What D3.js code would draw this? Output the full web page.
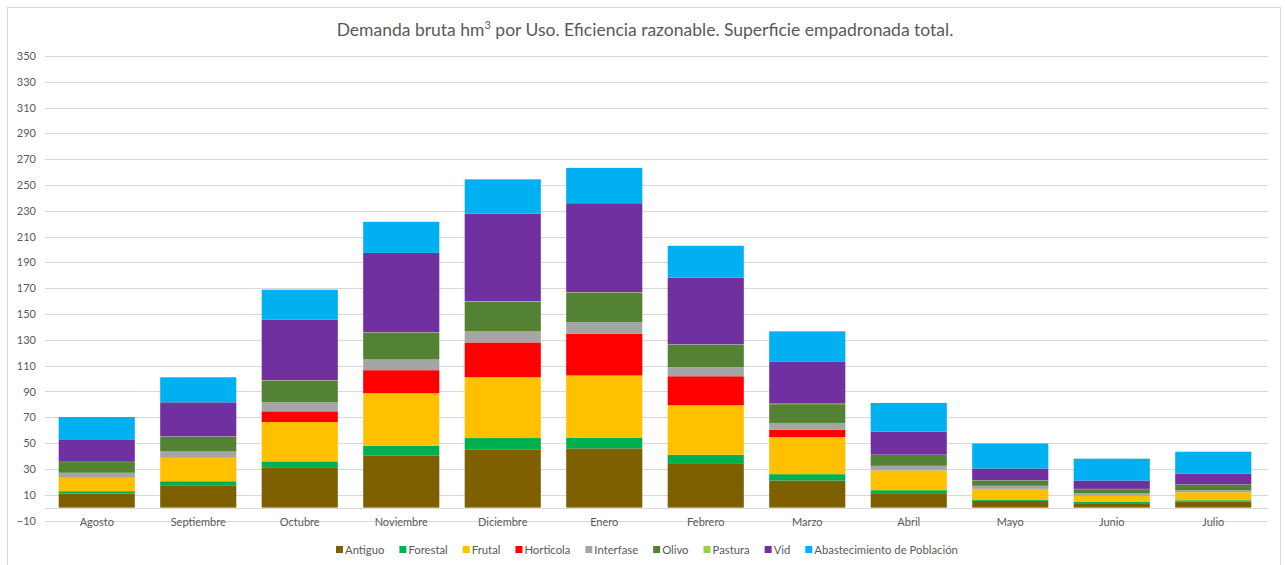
<!DOCTYPE html>
<html><head><meta charset="utf-8">
<script src="https://cdn.jsdelivr.net/npm/d3@7"></script>
<style>body{margin:0;background:#fff;} text{font-family:Lato,"Open Sans",sans-serif;}</style>
</head><body><svg id="c" width="1285" height="565"></svg>
<script>
const months = ["Agosto","Septiembre","Octubre","Noviembre","Diciembre","Enero","Febrero","Marzo","Abril","Mayo","Junio","Julio"];
const seriesNames = ["Antiguo","Forestal","Frutal","Horticola","Interfase","Olivo","Pastura","Vid","Abastecimiento de Población"];
const colors = ["#7F6000","#00B050","#FFC000","#FF0000","#A5A5A5","#548235","#92D050","#7030A0","#00B0F0"];
const antiguo   = [10.9,17.3,30.8,40.2,44.8,45.9,34.4,21.0,10.6,5.2,3.4,4.7];
const forestal  = [1.8,3.1,5.0,7.8,9.1,8.3,6.6,4.9,2.9,1.0,1.0,1.0];
const frutal    = [10.4,18.2,30.5,40.6,47.1,48.2,38.3,28.7,15.3,8.3,4.7,6.2];
const horticola = [0,0,8.3,17.9,27.0,32.4,22.5,5.8,0,0,0,0];
const interfase = [3.9,4.9,7.0,8.3,8.8,8.8,7.0,5.2,3.6,2.4,2.0,1.6];
const olivo     = [8.3,11.5,16.7,20.6,22.7,22.9,17.3,14.6,8.4,4.1,3.2,4.2];
const pastura   = [0.2,0.2,0.4,0.4,0.4,0.4,0.4,0.4,0.2,0.2,0.2,0.2];
const vid       = [17.4,26.4,46.9,61.6,67.9,69.0,51.7,32.7,17.8,9.1,6.5,8.3];
const abast     = [17.3,19.4,23.3,24.1,26.6,27.4,24.7,23.3,22.3,19.4,16.9,17.1];
const yTicks = [-10,10,30,50,70,90,110,130,150,170,190,210,230,250,270,290,310,330,350];

const allSeries = [antiguo,forestal,frutal,horticola,interfase,olivo,pastura,vid,abast];
const rows = months.map((m,i)=>{const r={month:m}; seriesNames.forEach((s,j)=>r[s]=allSeries[j][i]); return r;});
const stacked = d3.stack().keys(seriesNames)(rows);

const svg = d3.select("#c");
svg.append("rect").attr("x",7.5).attr("y",7.5).attr("width",1273).attr("height",570).attr("fill","#fff").attr("stroke","#d9d9d9");

const x = d3.scaleBand().domain(months).range([46,1264]).paddingInner(0.25).paddingOuter(0.125);
const y = d3.scaleLinear().domain([-10,350]).range([520.5,56]);

// gridlines
svg.append("g").selectAll("line").data(yTicks).join("line")
  .attr("x1",45).attr("x2",1268).attr("y1",d=>Math.round(y(d))+0.5).attr("y2",d=>Math.round(y(d))+0.5)
  .attr("stroke","#d9d9d9").attr("stroke-width",1);

// y axis labels
const yAxis = svg.append("g").attr("transform","translate(36,0)")
  .call(d3.axisLeft(y).tickValues(yTicks).tickSize(0).tickPadding(0));
yAxis.select(".domain").remove();
yAxis.selectAll("text").attr("fill","#595959").style("font-size","11px");

// bars
svg.append("g").selectAll("g").data(stacked).join("g")
  .attr("fill",(d,i)=>colors[i])
  .selectAll("rect").data(d=>d).join("rect")
  .attr("x",d=>x(d.data.month)).attr("width",x.bandwidth())
  .attr("y",d=>y(d[1])).attr("height",d=>Math.max(0,y(d[0])-y(d[1])));

// zero line
svg.append("line").attr("x1",45).attr("x2",1268).attr("y1",Math.round(y(0))+0.5).attr("y2",Math.round(y(0))+0.5)
  .attr("stroke","#d9d9d9").attr("stroke-width",1);

// x axis labels
const xAxis = svg.append("g").attr("transform",`translate(0,${y(0)})`)
  .call(d3.axisBottom(x).tickSize(0).tickPadding(11));
xAxis.select(".domain").remove();
xAxis.selectAll("text").attr("fill","#595959").style("font-size","11px");

// title
const t = svg.append("text").attr("x",645).attr("y",36).attr("text-anchor","middle")
  .attr("fill","#595959").style("font-size","17.5px");
t.append("tspan").text("Demanda bruta hm");
t.append("tspan").text("3").attr("dy",-7).style("font-size","11px");
t.append("tspan").text(" por Uso. Eficiencia razonable. Superficie empadronada total.").attr("dy",7);

// legend
const lg = svg.append("g").attr("transform","translate(0,550)");
let lx = 336;
seriesNames.forEach((s,i)=>{
  const g = lg.append("g").attr("transform",`translate(${lx},0)`);
  g.append("rect").attr("x",0).attr("y",-4).attr("width",7).attr("height",7).attr("fill",colors[i]);
  const tx = g.append("text").attr("x",9).attr("y",4).attr("fill","#595959").style("font-size","11.3px").text(s);
  lx += 9 + tx.node().getComputedTextLength() + 15;
});
</script></body></html>
